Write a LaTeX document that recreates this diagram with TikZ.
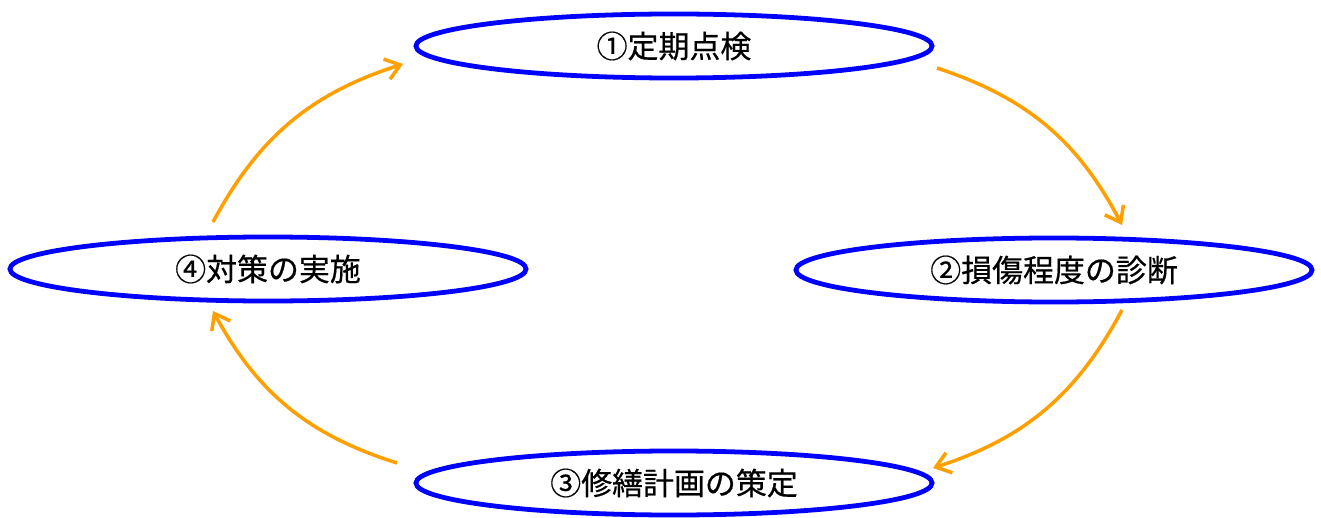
\documentclass[tikz,border=0pt]{standalone}
\usepackage{fontspec}
\usepackage{tikz}
\usetikzlibrary{arrows.meta,shapes.geometric}
\newfontfamily\jpfont[BoldFont={Noto Sans CJK JP},BoldFeatures={FakeBold=0.5}]{Noto Sans CJK JP}
\definecolor{cycleblue}{RGB}{0,0,255}
\definecolor{cycleorange}{RGB}{255,160,0}
\tikzset{
  stage/.style={ellipse,draw=cycleblue,line width=3.4pt,inner sep=0pt,
    minimum width=12.9cm,minimum height=1.6cm,
    font=\jpfont\bfseries\fontsize{22pt}{26pt}\selectfont},
  flow/.style={draw=cycleorange,line width=2.5pt,
    -{Straight Barb[length=10pt,width=15pt,line width=2.5pt]},bend left=22}
}

\begin{document}
\begin{tikzpicture}[x=0.025cm,y=-0.025cm]
  \useasboundingbox (0,0) rectangle (1321,518);
  \node[stage] (check) at (674,46) {①定期点検};
  \node[stage] (diag) at (1054,270) {②損傷程度の診断};
  \node[stage] (plan) at (674,483) {③修繕計画の策定};
  \node[stage] (act) at (268,269) {④対策の実施};
  \coordinate (a1s) at (937,68);
  \coordinate (a1e) at (1122,225);
  \coordinate (a2s) at (1122,310);
  \coordinate (a2e) at (933,468);
  \coordinate (a3s) at (397,463);
  \coordinate (a3e) at (213,311);
  \coordinate (a4s) at (213,222);
  \coordinate (a4e) at (403,64);
  \draw[flow] (a1s) to (a1e);
  \draw[flow] (a2s) to (a2e);
  \draw[flow] (a3s) to (a3e);
  \draw[flow] (a4s) to (a4e);
\end{tikzpicture}
\end{document}
